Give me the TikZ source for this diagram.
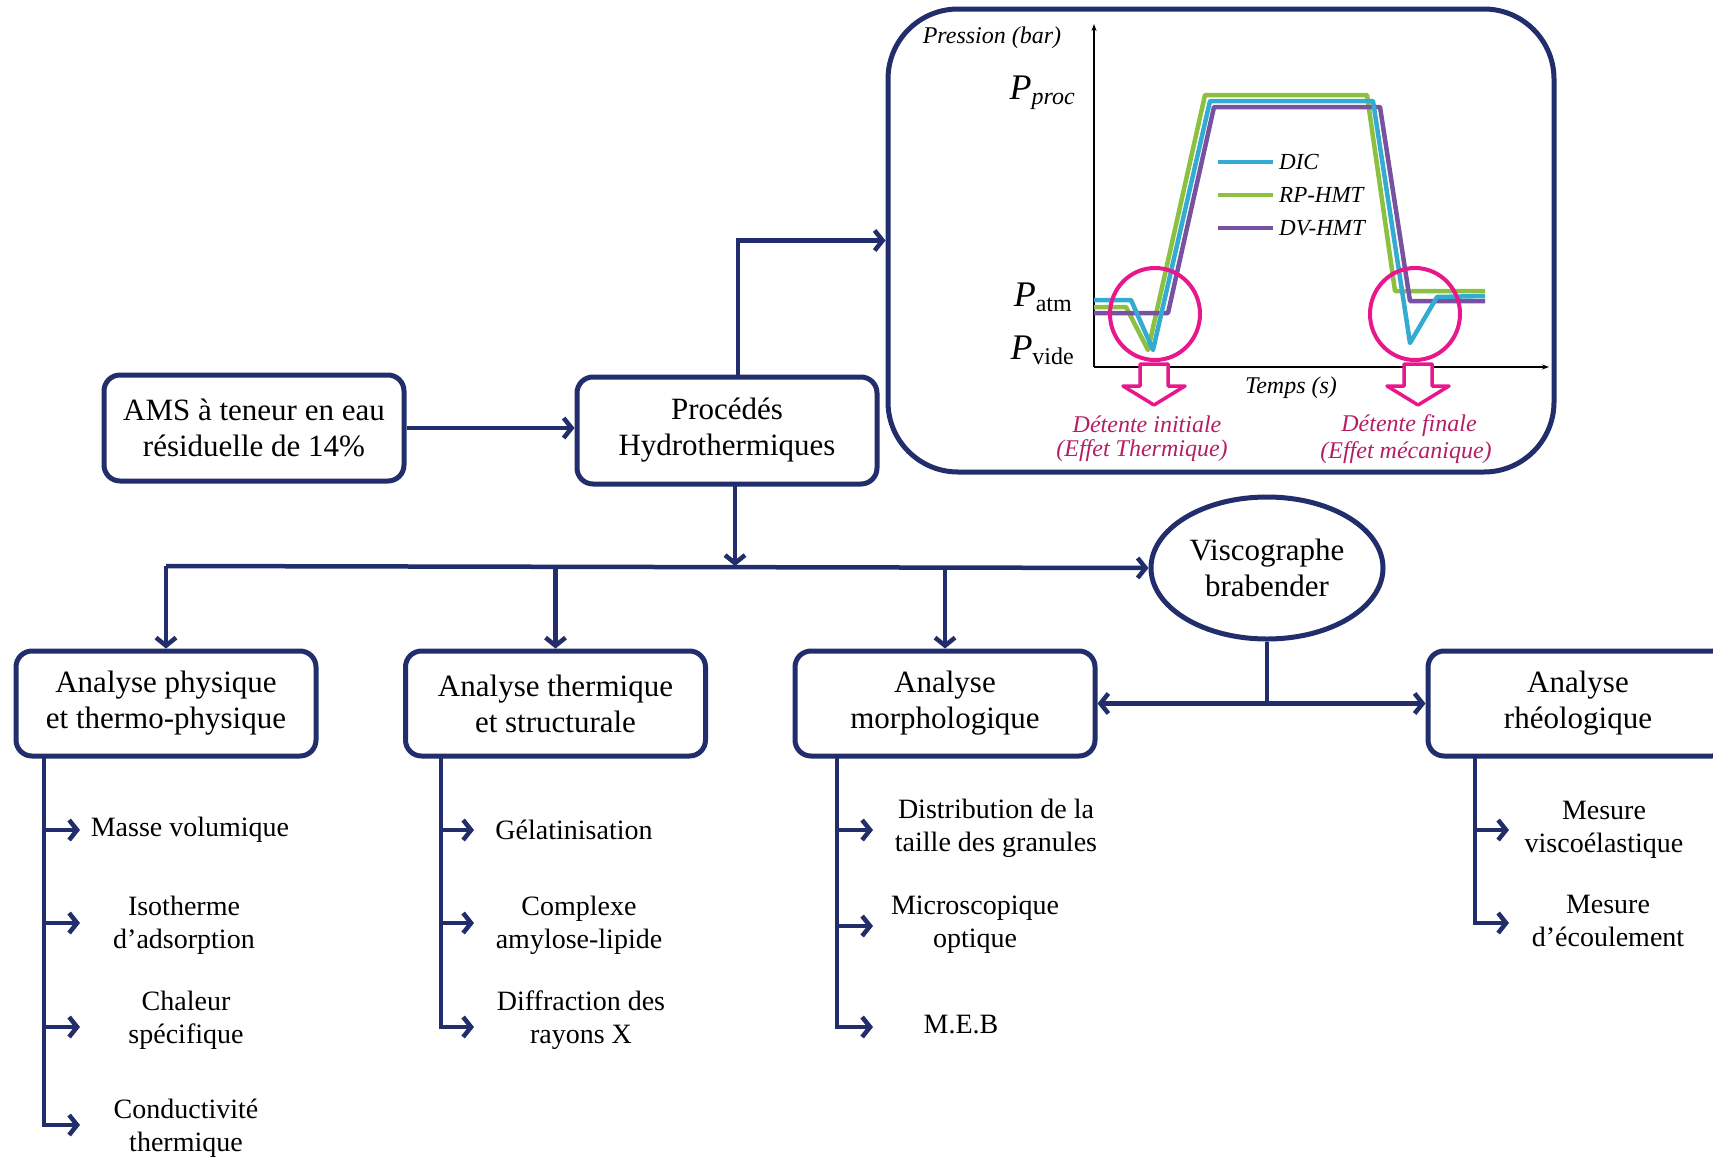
\documentclass[tikz,border=0pt]{standalone}
\usepackage{fontspec}
\setmainfont{Liberation Serif}
\usetikzlibrary{arrows.meta,shapes.geometric}
\definecolor{navy}{RGB}{33,46,107}
\definecolor{cdic}{RGB}{52,172,210}
\definecolor{crp}{RGB}{140,192,64}
\definecolor{cdv}{RGB}{120,82,160}
\definecolor{cpink}{RGB}{232,24,140}
\definecolor{ctxt}{RGB}{180,30,100}
\begin{document}
\begin{tikzpicture}[x=1pt,y=-1pt,
  box/.style={draw=navy, line width=5pt, rounded corners=16pt, fill=white, align=center,
    font=\fontsize{31}{36}\selectfont, inner sep=0pt, minimum width=300pt, minimum height=106pt},
  arr/.style={draw=navy, line width=4.5pt, -{Straight Barb[length=8pt,width=20pt]}},
  ln/.style={draw=navy, line width=4.5pt},
  item/.style={align=center, font=\fontsize{28}{33}\selectfont, inner sep=0pt},
  curve/.style={line width=4.5pt, line join=round},
  ctext/.style={font=\itshape\fontsize{23}{28}\selectfont, inner sep=0pt},
  ptext/.style={font=\itshape\fontsize{24}{28}\selectfont, text=ctxt, inner sep=0pt},
  blockarrow/.style={draw=cpink, fill=white, line width=3.5pt, line join=round}
]
\useasboundingbox (0,0) rectangle (1713,1159);

% ---------- chart box ----------
\node[draw=navy, line width=5pt, rounded corners=70pt, minimum width=666pt, minimum height=463pt, inner sep=0pt] (chart) at (1221,240.5) {};

% axes
\coordinate (orig) at (1094,367);
\coordinate (ytop) at (1094,24);
\coordinate (xend) at (1549,367);
\draw[line width=1.6pt, -{Stealth[length=7pt,width=5pt]}] (orig) -- (ytop);
\draw[line width=1.6pt, -{Stealth[length=7pt,width=5pt]}] (orig) -- (xend);

\node[ctext, font=\itshape\fontsize{24}{28}\selectfont] (ylab) at (992,38) {Pression (bar)};
\node[ctext, font=\itshape\fontsize{24}{28}\selectfont] (xlab) at (1291,388) {Temps (s)};
\node[anchor=east, inner sep=0pt] (pproc) at (1075,93) {\fontsize{36}{36}\selectfont\itshape P\raisebox{-5pt}{\fontsize{24}{24}\selectfont proc}};
\node[anchor=east, inner sep=0pt] (patm) at (1072,297) {\fontsize{36}{36}\selectfont\itshape P\raisebox{-5pt}{\fontsize{24}{24}\selectfont\upshape atm}};
\node[anchor=east, inner sep=0pt] (pvide) at (1074,350) {\fontsize{36}{36}\selectfont\itshape P\raisebox{-5pt}{\fontsize{24}{24}\selectfont\upshape vide}};

% curves
\draw[curve, crp] (1094,307) -- (1126,307) -- (1148,350) -- (1205,95) -- (1367,95) -- (1395,291) -- (1485,291);
\draw[curve, cdv] (1094,313) -- (1168,313) -- (1214,107) -- (1380,107) -- (1410,301) -- (1485,301);
\draw[curve, cdic] (1094,300) -- (1131,300) -- (1153,350) -- (1210,101) -- (1373,101) -- (1410,343) -- (1437,297) -- (1485,296);

% legend
\draw[curve, cdic] (1218,162) -- (1273,162);
\draw[curve, crp] (1218,195) -- (1273,195);
\draw[curve, cdv] (1218,228) -- (1273,228);
\node[ctext, anchor=west] (ldic) at (1279,162) {DIC};
\node[ctext, anchor=west] (lrp) at (1279,195) {RP-HMT};
\node[ctext, anchor=west] (ldv) at (1279,228) {DV-HMT};

% pink circles
\draw[cpink, line width=4pt] (1155,314) ellipse [x radius=45pt, y radius=46pt];
\draw[cpink, line width=4pt] (1415,314) ellipse [x radius=45pt, y radius=46pt];

% block arrows
\draw[blockarrow] (1140,364) -- (1168,364) -- (1168,386) -- (1185,386) -- (1154,405) -- (1123,386) -- (1140,386) -- cycle;
\draw[blockarrow] (1404,364) -- (1432,364) -- (1432,386) -- (1449,386) -- (1418,405) -- (1387,386) -- (1404,386) -- cycle;

\node[ptext] (det1) at (1147,424) {Détente initiale};
\node[ptext] (eff1) at (1142,451) {(Effet Thermique)};
\node[ptext] (det2) at (1409,426) {Détente finale};
\node[ptext] (eff2) at (1406,453) {(Effet mécanique)};

% ---------- main boxes ----------
\node[box] (ams) at (254,428) {AMS à teneur en eau\\résiduelle de 14\%};
\node[box, minimum height=107pt] (proc) at (727,430.5) {Procédés\\Hydrothermiques};

\node[box, minimum height=105pt] (b1) at (166,703.5) {Analyse physique\\et thermo-physique};
\node[box, minimum height=105pt] (b2) at (555.5,703.5) {Analyse thermique\\et structurale};
\node[box, minimum height=105pt] (b3) at (945,703.5) {Analyse\\morphologique};
\node[box, minimum height=105pt] (b4) at (1578,703.5) {Analyse\\rhéologique};

\node[ellipse, draw=navy, line width=5pt, minimum width=232pt, minimum height=142pt, inner sep=0pt,
  align=center, font=\fontsize{31}{36}\selectfont] (visco) at (1267,568) {Viscographe\\brabender};

% ---------- connectors ----------
\draw[arr] (ams.east) -- (ams.east -| proc.west);
\coordinate (pup) at (738,377);
\draw[arr] (pup) |- (chart.west);

\coordinate (pdown) at (735,484);
\coordinate (hmid) at (735,566);
\draw[arr] (pdown) -- (hmid);
\coordinate (hleft) at (166,566);
\draw[arr] (hleft) -- (visco.west);
\draw[arr] (hleft) -- (b1.north);
\draw[arr] (b2.north |- hleft) -- (b2.north);
\draw[arr] (b3.north |- hleft) -- (b3.north);

\coordinate (vjoin) at (1267,703.5);
\draw[ln] (visco.south) -- (vjoin);
\draw[arr] (vjoin) -- (b3.east);
\draw[arr] (vjoin) -- (b4.west);

% ---------- column 1 ----------
\coordinate (c1top) at (44,756);
\coordinate (t11) at (80,830);
\coordinate (t12) at (80,923);
\coordinate (t13) at (80,1027);
\coordinate (t14) at (80,1125);
\draw[arr] (c1top) |- (t14);
\draw[arr] (c1top |- t11) -- (t11);
\draw[arr] (c1top |- t12) -- (t12);
\draw[arr] (c1top |- t13) -- (t13);
\node[item] (i11) at (190,830) {Masse volumique};
\node[item] (i12) at (184,925) {Isotherme\\d’adsorption};
\node[item] (i13) at (186,1020) {Chaleur\\spécifique};
\node[item] (i14) at (186,1128) {Conductivité\\thermique};

% ---------- column 2 ----------
\coordinate (c2top) at (441,756);
\coordinate (t21) at (474,830);
\coordinate (t22) at (474,923);
\coordinate (t23) at (474,1027);
\draw[arr] (c2top) |- (t23);
\draw[arr] (c2top |- t21) -- (t21);
\draw[arr] (c2top |- t22) -- (t22);
\node[item] (i21) at (574,830) {Gélatinisation};
\node[item] (i22) at (579,925) {Complexe\\amylose-lipide};
\node[item] (i23) at (581,1020) {Diffraction des\\rayons X};

% ---------- column 3 ----------
\coordinate (c3top) at (837,756);
\coordinate (t31) at (873,830);
\coordinate (t32) at (873,926);
\coordinate (t33) at (873,1027);
\draw[arr] (c3top) |- (t33);
\draw[arr] (c3top |- t31) -- (t31);
\draw[arr] (c3top |- t32) -- (t32);
\node[item] (i31) at (996,828) {Distribution de la\\taille des granules};
\node[item] (i32) at (975,925) {Microscopique\\optique};
\node[item] (i33) at (961,1025) {M.E.B};

% ---------- column 4 ----------
\coordinate (c4top) at (1475,756);
\coordinate (t41) at (1509,830);
\coordinate (t42) at (1509,923);
\draw[arr] (c4top) |- (t42);
\draw[arr] (c4top |- t41) -- (t41);
\node[item] (i41) at (1604,830) {Mesure\\viscoélastique};
\node[item] (i42) at (1608,921) {Mesure\\d’écoulement};
\end{tikzpicture}
\end{document}
